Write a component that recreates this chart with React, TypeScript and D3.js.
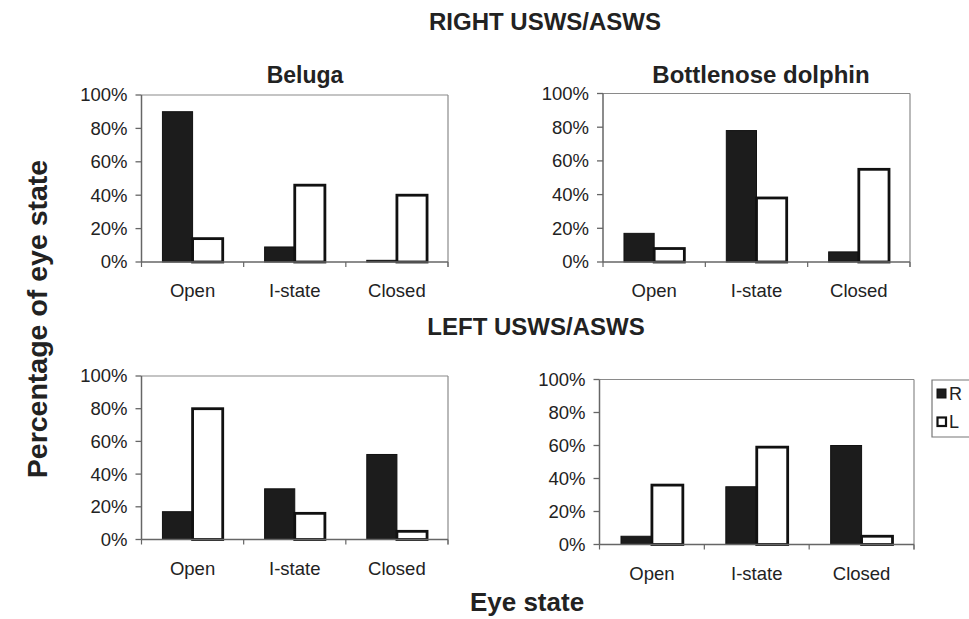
import React from "react";
import * as d3 from "d3";

const categories = ["Open", "I-state", "Closed"];
const seriesNames = ["R", "L"];
const yTicks = [0, 20, 40, 60, 80, 100];

const belugaRightR = [90, 9, 1];
const belugaRightL = [14, 46, 40];
const dolphinRightR = [17, 78, 6];
const dolphinRightL = [8, 38, 55];
const belugaLeftR = [17, 31, 52];
const belugaLeftL = [80, 16, 5];
const dolphinLeftR = [5, 35, 60];
const dolphinLeftL = [36, 59, 5];

const FONT = "'Liberation Sans', Arial, Helvetica, sans-serif";
const TEXT = "#222";
const DARK = "#1c1c1c";

type PanelProps = {
  x0: number; x1: number; yTop: number; yBot: number;
  r: number[]; l: number[];
};

function Panel({ x0, x1, yTop, yBot, r, l }: PanelProps) {
  const x = d3.scaleBand<string>().domain(categories).range([x0, x1]).paddingInner(0.41).paddingOuter(0.205);
  const xs = d3.scaleBand<string>().domain(seriesNames).range([0, x.bandwidth()]).padding(0);
  const y = d3.scaleLinear().domain([0, 100]).range([yBot, yTop]);
  const step = (x1 - x0) / categories.length;
  const bounds = d3.range(categories.length + 1).map((i) => x0 + i * step);
  const vals = [r, l];
  return (
    <g>
      <line x1={x0} x2={x1} y1={yTop} y2={yTop} stroke="#8a8a8a" strokeWidth={1.2} />
      <line x1={x1} x2={x1} y1={yTop} y2={yBot + 5} stroke="#8a8a8a" strokeWidth={1.2} />
      {seriesNames.map((s, si) =>
        categories.map((c, ci) => {
          const v = vals[si][ci];
          const bx = (x(c) as number) + (xs(s) as number);
          return (
            <rect
              key={s + c}
              x={bx}
              y={y(v)}
              width={xs.bandwidth()}
              height={yBot - y(v)}
              fill={si === 0 ? DARK : "#fff"}
              stroke="#111"
              strokeWidth={si === 0 ? 1 : 2.8}
            />
          );
        })
      )}
      <line x1={x0} x2={x0} y1={yTop} y2={yBot} stroke="#666" strokeWidth={1.5} />
      {yTicks.map((t) => (
        <g key={t}>
          <line x1={x0 - 6} x2={x0} y1={y(t)} y2={y(t)} stroke="#666" strokeWidth={1.3} />
          <text
            x={x0 - 14}
            y={y(t)}
            dy="0.35em"
            textAnchor="end"
            fontFamily={FONT}
            fontSize={18.5}
            fill={TEXT}
          >
            {t + "%"}
          </text>
        </g>
      ))}
      <line x1={x0} x2={x1} y1={yBot} y2={yBot} stroke="#666" strokeWidth={1.5} />
      {bounds.map((b, i) => (
        <line key={i} x1={b} x2={b} y1={yBot} y2={yBot + 5} stroke="#666" strokeWidth={1.2} />
      ))}
      {categories.map((c) => (
        <text
          key={c}
          x={(x(c) as number) + x.bandwidth() / 2}
          y={yBot + 35}
          textAnchor="middle"
          fontFamily={FONT}
          fontSize={18.5}
          fill={TEXT}
        >
          {c}
        </text>
      ))}
    </g>
  );
}

export default function App() {
  const W = 969;
  const H = 619;
  const bold = { fontFamily: FONT, fontWeight: 700, fill: TEXT } as const;
  return (
    <svg
      width={W}
      height={H}
      viewBox={`0 0 ${W} ${H}`}
      style={{ position: "absolute", left: 0, top: 0, background: "#fff" }}
    >
      <rect x={0} y={0} width={W} height={H} fill="#fff" />
      <text x={545} y={30} textAnchor="middle" fontSize={24} {...bold}>RIGHT USWS/ASWS</text>
      <text x={305} y={83} textAnchor="middle" fontSize={23} {...bold}>Beluga</text>
      <text x={761} y={83} textAnchor="middle" fontSize={24} {...bold}>Bottlenose dolphin</text>
      <text x={536} y={335} textAnchor="middle" fontSize={24} {...bold}>LEFT USWS/ASWS</text>
      <text x={527} y={611} textAnchor="middle" fontSize={26} {...bold}>Eye state</text>
      <text
        transform="translate(47,319) rotate(-90)"
        textAnchor="middle"
        fontSize={28.5}
        {...bold}
      >
        Percentage of eye state
      </text>

      <Panel x0={141.5} x1={448} yTop={95} yBot={262} r={belugaRightR} l={belugaRightL} />
      <Panel x0={603} x1={910} yTop={93.5} yBot={262} r={dolphinRightR} l={dolphinRightL} />
      <Panel x0={141.5} x1={448} yTop={376} yBot={539.5} r={belugaLeftR} l={belugaLeftL} />
      <Panel x0={599.5} x1={914} yTop={379.5} yBot={544.5} r={dolphinLeftR} l={dolphinLeftL} />

      <path d="M969,380 L932,380 L932,437 L969,437" fill="none" stroke="#777" strokeWidth={1.2} />
      <rect x={937} y={389} width={9} height={9} fill={DARK} stroke="#111" strokeWidth={1} />
      <text x={949} y={393.5} dy="0.35em" fontFamily={FONT} fontSize={18} fill={TEXT}>{seriesNames[0]}</text>
      <rect x={937.5} y={417.5} width={8.5} height={8.5} fill="#fff" stroke="#111" strokeWidth={2.2} />
      <text x={949} y={422} dy="0.35em" fontFamily={FONT} fontSize={18} fill={TEXT}>{seriesNames[1]}</text>
    </svg>
  );
}
